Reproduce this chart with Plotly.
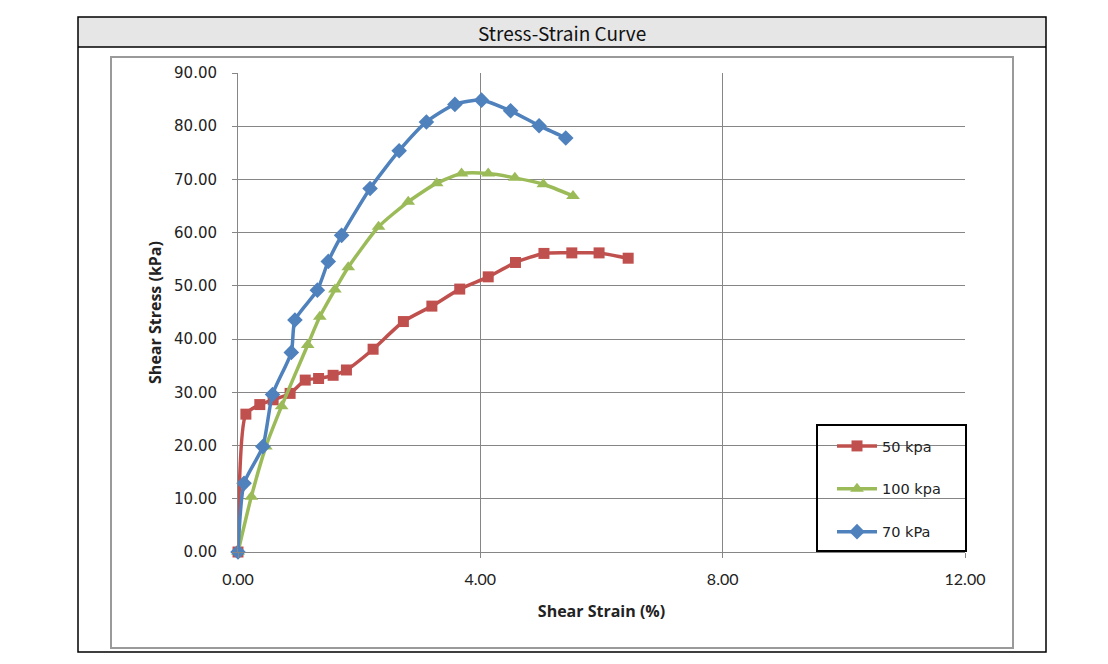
import plotly.graph_objects as go

# ---- data ----
strain_50 = [0, 0.13, 0.36, 0.58, 0.86, 1.11, 1.33, 1.57, 1.79, 2.23, 2.73, 3.20, 3.66, 4.13, 4.58, 5.05, 5.51, 5.96, 6.44]
stress_50 = [0, 25.9, 27.7, 28.6, 29.8, 32.3, 32.6, 33.2, 34.2, 38.1, 43.3, 46.2, 49.4, 51.7, 54.4, 56.1, 56.2, 56.2, 55.2]

strain_100 = [0, 0.22, 0.46, 0.72, 1.15, 1.35, 1.60, 1.82, 2.32, 2.81, 3.28, 3.69, 4.13, 4.57, 5.04, 5.53]
stress_100 = [0, 10.4, 19.8, 27.4, 38.9, 44.2, 49.3, 53.5, 61.1, 65.8, 69.3, 71.1, 71.1, 70.3, 69.1, 66.9]

strain_70 = [0, 0.10, 0.41, 0.57, 0.88, 0.94, 1.31, 1.49, 1.71, 2.18, 2.66, 3.11, 3.58, 4.02, 4.50, 4.97, 5.41]
stress_70 = [0, 12.9, 19.8, 29.6, 37.5, 43.6, 49.2, 54.6, 59.5, 68.3, 75.4, 80.8, 84.1, 84.9, 82.9, 80.1, 77.8]

series_names = ["50 kpa", "100 kpa", "70 kPa"]
x_ticks = [0, 4, 8, 12]
y_ticks = [0, 10, 20, 30, 40, 50, 60, 70, 80, 90]

# ---- layout geometry (page pixels; the figure starts at the 8px body margin) ----
OFF = 8
W, H = 1108 - OFF, 664 - OFF
PX0, PX1 = 238, 965   # plot area left/right (page px)
PY0, PY1 = 552, 73    # plot area bottom/top (page px)


def px(x):
    return (x - PX0) / (PX1 - PX0)


def py(y):
    return (PY0 - y) / (PY0 - PY1)


fig = go.Figure()

styles = [
    dict(color="#C0504D", symbol="square", size=11),
    dict(color="#9BBB59", symbol="triangle-up", size=12),
    dict(color="#4F81BD", symbol="diamond", size=12),
]
data = [(strain_50, stress_50), (strain_100, stress_100), (strain_70, stress_70)]

for (xs, ys), name, st in zip(data, series_names, styles):
    fig.add_trace(go.Scatter(
        x=xs, y=ys, name=name, mode="lines+markers",
        line=dict(color=st["color"], width=3.5, shape="spline", smoothing=0.6),
        marker=dict(color=st["color"], symbol=st["symbol"], size=st["size"]),
        legendgroup=name, cliponaxis=False,
    ))

shapes = [
    # title bar background
    dict(type="rect", xref="paper", yref="paper", x0=px(78), x1=px(1046), y0=py(47), y1=py(17),
         fillcolor="#e6e6e6", line=dict(width=0), layer="below"),
    # outer table border
    dict(type="rect", xref="paper", yref="paper", x0=px(78), x1=px(1046), y0=py(652), y1=py(17),
         line=dict(color="#000000", width=1.5), layer="below"),
    dict(type="line", xref="paper", yref="paper", x0=px(78), x1=px(1046), y0=py(47), y1=py(47),
         line=dict(color="#000000", width=1.5), layer="below"),
    # inner chart frame
    dict(type="rect", xref="paper", yref="paper", x0=px(111), x1=px(1013), y0=py(648), y1=py(57),
         line=dict(color="#9a9a9a", width=2), layer="below"),
    # legend box
    dict(type="rect", xref="paper", yref="paper", x0=px(817), x1=px(966), y0=py(551), y1=py(425),
         line=dict(color="#000000", width=2), layer="above"),
]

fig.update_layout(
    width=W, height=H,
    margin=dict(l=PX0 - OFF, r=W - (PX1 - OFF), t=PY1 - OFF, b=H - (PY0 - OFF), pad=0),
    paper_bgcolor="white", plot_bgcolor="white",
    shapes=shapes,
    annotations=[dict(text="Stress-Strain Curve", xref="paper", yref="paper",
                      x=px(562), y=py(32), showarrow=False, xanchor="center", yanchor="middle",
                      font=dict(family="Noto Sans CJK KR", size=19, color="#111111"))],
    legend=dict(x=px(832), y=py(430), xanchor="left", yanchor="top",
                bgcolor="rgba(0,0,0,0)", borderwidth=0, tracegroupgap=21,
                traceorder="grouped", itemwidth=40,
                font=dict(family="DejaVu Sans", size=14.5, color="#222222")),
    showlegend=True,
)

fig.update_xaxes(
    range=[0, 12], tickvals=x_ticks, ticktext=[f"{v:.2f}" for v in x_ticks],
    showgrid=True, gridcolor="#868686", gridwidth=1,
    showline=True, linecolor="#868686", linewidth=1,
    ticks="outside", ticklen=5, tickcolor="#868686", ticklabelstandoff=8,
    zeroline=False,
    tickfont=dict(family="Lato", size=16, color="#222222"),
    title=dict(text="<b>Shear Strain (%)</b>", standoff=18,
               font=dict(family="Open Sans", size=16, color="#222222")),
)
fig.update_yaxes(
    range=[0, 90], tickvals=y_ticks, ticktext=[f"{v:.2f}" for v in y_ticks],
    showgrid=True, gridcolor="#868686", gridwidth=1,
    showline=True, linecolor="#868686", linewidth=1,
    ticks="outside", ticklen=5, tickcolor="#868686", ticklabelstandoff=12,
    zeroline=False,
    tickfont=dict(family="DejaVu Sans", size=15, color="#222222"),
    title=dict(text="<b>Shear Stress (kPa)</b>", standoff=8,
               font=dict(family="Open Sans", size=16, color="#222222")),
)

fig.write_html("out.html")
